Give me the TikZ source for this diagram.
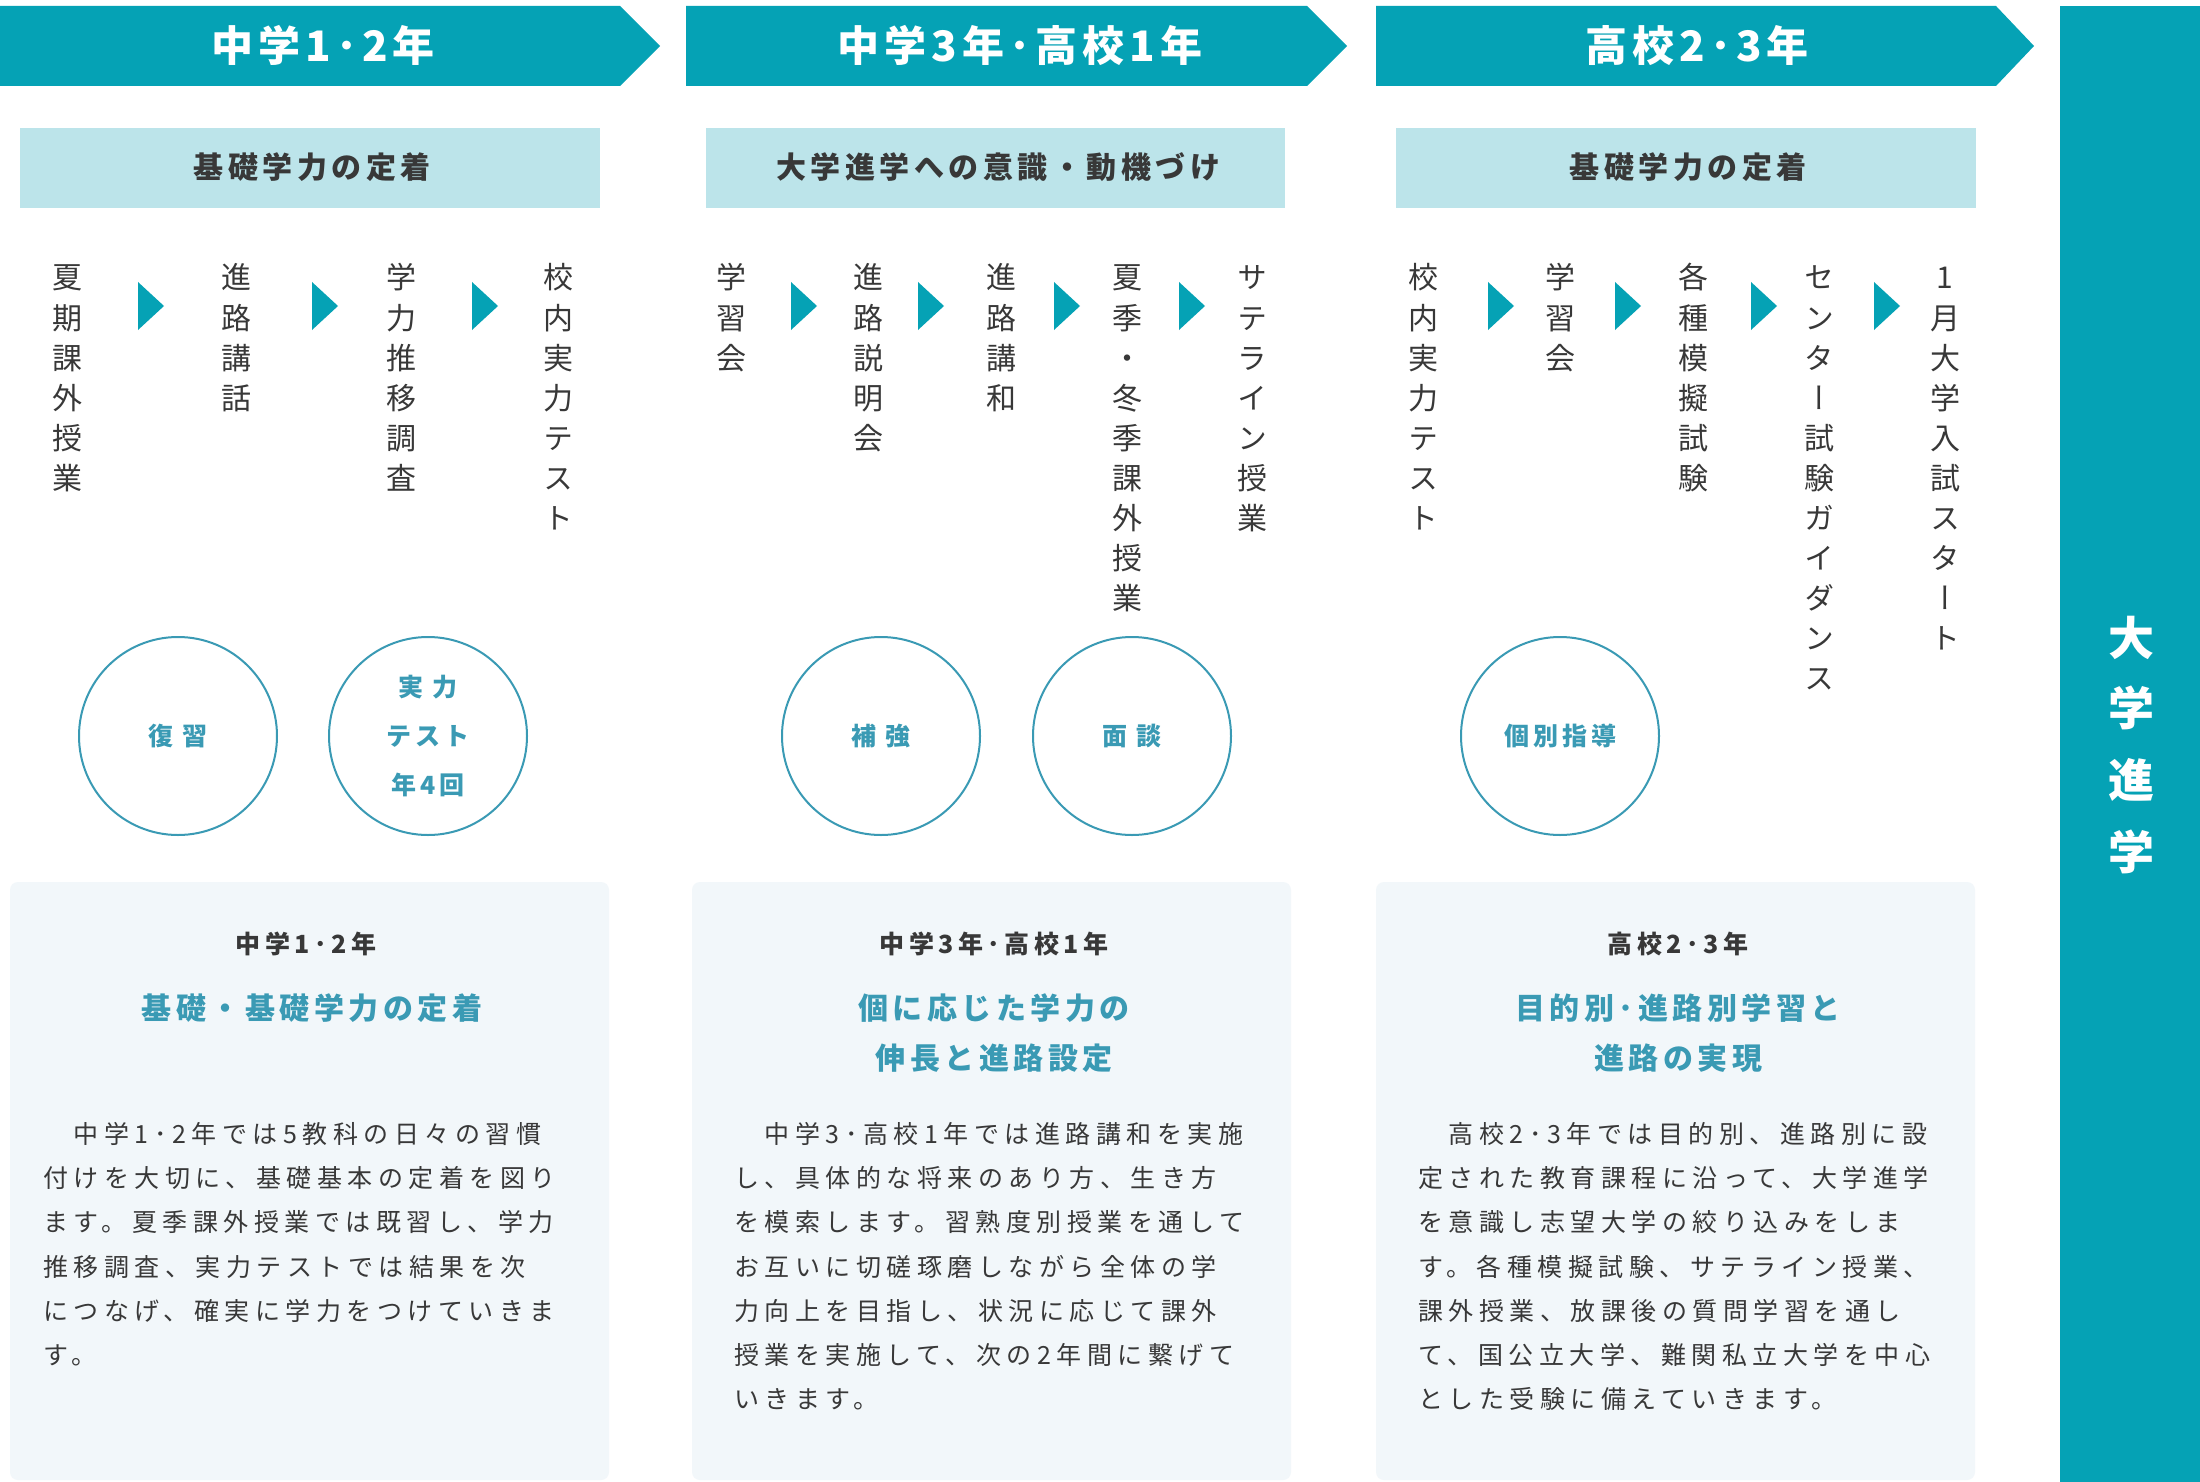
\documentclass[tikz,border=0pt]{standalone}
\usepackage{fontspec}
\usepackage{graphicx}
\setmainfont{Noto Sans CJK JP}
\newfontfamily\fjp{Noto Sans CJK JP}
\newfontfamily\fjpv[RawFeature=+vert]{Noto Sans CJK JP}
\newfontfamily\fhead[LetterSpace=12]{Noto Sans CJK JP}
\newfontfamily\fsub[LetterSpace=15]{Noto Sans CJK JP}
\newfontfamily\fcirc[LetterSpace=16]{Noto Sans CJK JP}
\newfontfamily\fbh[LetterSpace=18]{Noto Sans CJK JP}
\newfontfamily\fbody[LetterSpace=22]{Noto Sans CJK JP}
\definecolor{hteal}{HTML}{05A2B5}
\definecolor{lteal}{HTML}{BCE4EA}
\definecolor{cteal}{HTML}{3A9AB4}
\definecolor{boxbg}{HTML}{F2F7FA}
\definecolor{ink}{HTML}{383838}
\tikzset{
  harrow/.style={fill=hteal},
  htext/.style={font=\fhead\bfseries\fontsize{21}{21}\selectfont, text=white, inner sep=0pt, anchor=base},
  subbg/.style={fill=lteal},
  subtxt/.style={font=\fsub\bfseries\fontsize{15}{15}\selectfont, text=ink, inner sep=0pt, anchor=base},
  tri/.style={fill=hteal},
  colch/.style={font=\fjpv\fontsize{15}{15}\selectfont, text=ink, inner sep=0pt, anchor=base},
  circ/.style={circle, draw=cteal, line width=1pt, minimum size=99pt, inner sep=0pt,
    font=\fcirc\bfseries\fontsize{12.5}{24.5}\selectfont, text=cteal, align=center},
  boxfill/.style={fill=boxbg, rounded corners=4pt},
  bhead/.style={font=\fbh\bfseries\fontsize{12.5}{12.5}\selectfont, text=ink, inner sep=0pt, anchor=base},
  bteal/.style={font=\fsub\bfseries\fontsize{15}{15}\selectfont, text=cteal, inner sep=0pt, anchor=base},
  bodytxt/.style={font=\fbody\fontsize{12.5}{12.5}\selectfont, text=ink, inner sep=0pt, anchor=base west},
  bartxt/.style={font=\fjp\bfseries\fontsize{23}{23}\selectfont, text=white, inner sep=0pt, anchor=base}
}
\newcommand\mkcol[3]{\foreach \c [count=\i] in {#3} {\node[colch] (col#1-\i) at (#2,{289+40*(\i-1)}) {\c};}}
\newcommand\mkbody[4]{\foreach \l [count=\i] in {#4} {\node[bodytxt] (#1-\i) at (#2,{#3+44.2*(\i-1)}) {\l};}}
\begin{document}
\begin{tikzpicture}[x=0.5pt,y=-0.5pt]
\useasboundingbox (0,0) rectangle (2200,1482);
\fill[white] (0,0) rectangle (2200,1482);
% header arrows
\fill[harrow] (0,6) -- (620,6) -- (660,46) -- (620,86) -- (0,86) -- cycle;
\fill[harrow] (686,6) -- (1307,6) -- (1347,46) -- (1307,86) -- (686,86) -- cycle;
\fill[harrow] (1376,6) -- (1996,6) -- (2034,46) -- (1996,86) -- (1376,86) -- cycle;
\node[htext] (h1) at (323,62) {中学1･2年};
\node[htext] (h2) at (1020,62) {中学3年･高校1年};
\node[htext] (h3) at (1697,62) {高校2･3年};
% right bar
\fill[harrow] (2060,6) rectangle (2200,1482);
\foreach \c/\yy [count=\i] in {大/655.5,学/725.5,進/797.5,学/869.5}
  {\node[bartxt] (u\i) at (2131,\yy) {\c};}
% sub boxes
\fill[subbg] (20,128) rectangle (600,208);
\fill[subbg] (706,128) rectangle (1285,208);
\fill[subbg] (1396,128) rectangle (1976,208);
\node[subtxt] (s1) at (312,179) {基礎学力の定着};
\node[subtxt] (s2) at (998,179) {大学進学への意識・動機づけ};
\node[subtxt] (s3) at (1688,179) {基礎学力の定着};
% vertical columns
\mkcol{1}{67}{夏,期,課,外,授,業}
\mkcol{2}{236}{進,路,講,話}
\mkcol{3}{401}{学,力,推,移,調,査}
\mkcol{4}{558}{校,内,実,力,テ,ス,ト}
\mkcol{5}{731}{学,習,会}
\mkcol{6}{868}{進,路,説,明,会}
\mkcol{7}{1001}{進,路,講,和}
\mkcol{8}{1127}{夏,季,・,冬,季,課,外,授,業}
\mkcol{9}{1252}{サ,テ,ラ,イ,ン,授,業}
\mkcol{10}{1423}{校,内,実,力,テ,ス,ト}
\mkcol{11}{1560}{学,習,会}
\mkcol{12}{1693}{各,種,模,擬,試,験}
\mkcol{13}{1819}{セ,ン,タ,ー,試,験,ガ,イ,ダ,ン,ス}
\mkcol{14}{1945}{1,月,大,学,入,試,ス,タ,ー,ト}
% triangles
\foreach \t in {138,312,472,791,918,1054,1179,1488,1615,1751,1874}
  {\fill[tri] (\t,282) -- ++(26,24) -- ++(-26,24) -- cycle;}
% circles
\node[circ] (r1) at (178,736) {復 習};
\node[circ] (r2) at (428,736) {実 力\\テスト\\年4回};
\node[circ] (r3) at (881,736) {補 強};
\node[circ] (r4) at (1132,736) {面 談};
\node[circ] (r5) at (1560,736) {個別指導};
% bottom boxes
\fill[boxfill] (10,882) rectangle (609,1480);
\fill[boxfill] (692,882) rectangle (1291,1480);
\fill[boxfill] (1376,882) rectangle (1975,1480);
\node[bhead] (t1) at (306,953.5) {中学1･2年};
\node[bhead] (t2) at (994,953.5) {中学3年･高校1年};
\node[bhead] (t3) at (1678,953.5) {高校2･3年};
\node[bteal] (k1) at (312,1019.4) {基礎・基礎学力の定着};
\node[bteal] (k2a) at (994,1019.4) {個に応じた学力の};
\node[bteal] (k2b) at (994,1069.4) {伸長と進路設定};
\node[bteal] (k3a) at (1678,1019.4) {目的別･進路別学習と};
\node[bteal] (k3b) at (1678,1069.4) {進路の実現};
\mkbody{p1}{43}{1143.5}{{　中学1･2年では5教科の日々の習慣},{付けを大切に、基礎基本の定着を図り},{ます。夏季課外授業では既習し、学力},{推移調査、実力テストでは結果を次},{につなげ、確実に学力をつけていきま},{す。}}
\mkbody{p2}{734}{1143.5}{{　中学3･高校1年では進路講和を実施},{し、具体的な将来のあり方、生き方},{を模索します。習熟度別授業を通して},{お互いに切磋琢磨しながら全体の学},{力向上を目指し、状況に応じて課外},{授業を実施して、次の2年間に繋げて},{いきます。}}
\mkbody{p3}{1418}{1143.5}{{　高校2･3年では目的別、進路別に設},{定された教育課程に沿って、大学進学},{を意識し志望大学の絞り込みをしま},{す。各種模擬試験、サテライン授業、},{課外授業、放課後の質問学習を通し},{て、国公立大学、難関私立大学を中心},{とした受験に備えていきます。}}
\end{tikzpicture}
\end{document}
